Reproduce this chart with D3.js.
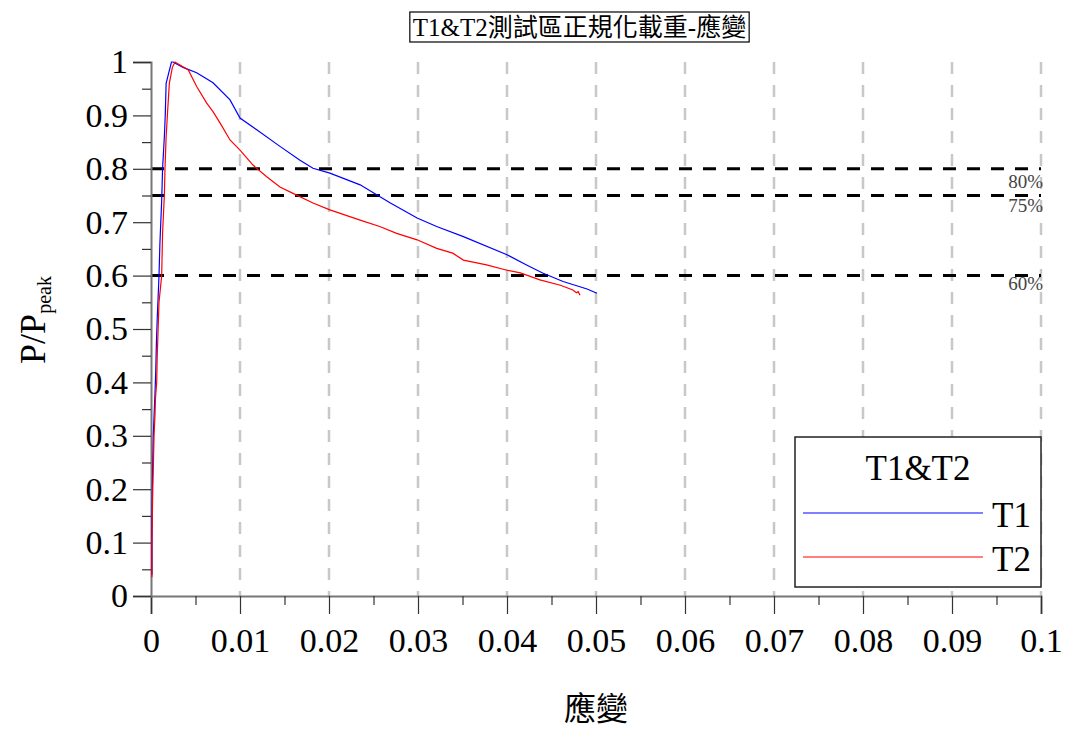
<!DOCTYPE html>
<html><head><meta charset="utf-8">
<script src="https://cdn.jsdelivr.net/npm/d3@7"></script>
<style>body{margin:0;background:#fff}svg{display:block}</style>
</head><body>
<svg id="c" width="1069" height="731"></svg>
<script>
const titleText = "T1&T2測試區正規化載重-應變";
const xLabel = "應變";
const legendTitle = "T1&T2";
const seriesNames = ["T1", "T2"];
const seriesColors = ["#0000ff", "#ff0000"];
const xTickValues = [0,0.01,0.02,0.03,0.04,0.05,0.06,0.07,0.08,0.09,0.1];
const xTickLabels = ["0","0.01","0.02","0.03","0.04","0.05","0.06","0.07","0.08","0.09","0.1"];
const yTickValues = [0,0.1,0.2,0.3,0.4,0.5,0.6,0.7,0.8,0.9,1];
const yTickLabels = ["0","0.1","0.2","0.3","0.4","0.5","0.6","0.7","0.8","0.9","1"];
const refLevels = [0.8, 0.75, 0.6];
const refLabels = ["80%", "75%", "60%"];

const t1Strain = [0.0001,0.0001,0.00015,0.0002,0.00026,0.00035,0.00045,0.00053,0.0006,0.0007,0.0008,0.0009,0.001,0.0012,0.0013,0.0015,0.0016,0.0017,0.002,0.0023,0.00247,
  0.0036,0.00513,0.00697,0.00888,0.0100,0.01188,0.01449,0.01674,0.0182,0.0201,0.0235,0.0254,0.0269,0.0299,0.0321,0.0351,0.0400,0.0422,0.0440,0.0463,0.0490,0.0501];
const t1Load = [0.04,0.12,0.2,0.25,0.3,0.34,0.38,0.42,0.47,0.52,0.56,0.6,0.66,0.74,0.8,0.86,0.9,0.96,0.98,1.0,1.0,
  0.99,0.98,0.961,0.929,0.895,0.873,0.842,0.816,0.801,0.792,0.770,0.751,0.736,0.708,0.692,0.673,0.639,0.620,0.605,0.589,0.575,0.567];
const t2Strain = [0.0001,0.0001,0.0002,0.0003,0.00034,0.00045,0.0005,0.00064,0.0007,0.0008,0.0009,0.0012,0.0013,0.0015,0.00157,0.0017,0.00184,0.00206,0.0024,0.0027,
  0.00419,0.00513,0.00626,0.00697,0.00775,0.00888,0.0100,0.01146,0.0130,0.01449,0.01596,0.0182,0.0201,0.0235,0.0257,0.0276,0.0299,0.0321,0.0339,0.0351,0.0377,0.0400,0.0415,0.0437,0.0460,0.0474,0.0478,0.0480,0.0482];
const t2Load = [0.035,0.1,0.2,0.27,0.3,0.34,0.37,0.4,0.45,0.5,0.55,0.6,0.68,0.75,0.8,0.86,0.9,0.96,0.99,1.0,
  0.985,0.954,0.923,0.907,0.886,0.854,0.835,0.807,0.785,0.766,0.754,0.736,0.723,0.704,0.692,0.679,0.667,0.651,0.642,0.629,0.620,0.610,0.605,0.592,0.582,0.573,0.568,0.570,0.563];

const svg = d3.select("#c");
const serif = "'Liberation Serif','Times New Roman',serif";
const cjk = "'Liberation Serif','Noto Sans CJK TC',serif";

const x = d3.scaleLinear().domain([0, 0.1]).range([151, 1041]);
const y = d3.scaleLinear().domain([0, 1]).range([596, 62]);

// vertical gridlines
svg.append("g").selectAll("line").data(xTickValues.slice(1)).join("line")
  .attr("x1", d => x(d)).attr("x2", d => x(d)).attr("y1", y(1)).attr("y2", y(0))
  .attr("stroke", "#c8c8c8").attr("stroke-width", 2.5).attr("stroke-dasharray", "12,11");

// reference lines
svg.append("g").selectAll("line").data(refLevels).join("line")
  .attr("x1", x(0)).attr("x2", x(0.1)).attr("y1", d => y(d)).attr("y2", d => y(d))
  .attr("stroke", "#000").attr("stroke-width", 3).attr("stroke-dasharray", "13,11");
const refOff = [19, 16, 14];
svg.append("g").selectAll("text").data(refLevels).join("text")
  .attr("x", x(0.1) + 2).attr("y", (d, i) => y(d) + refOff[i])
  .attr("text-anchor", "end").attr("font-family", serif).attr("font-size", 19).attr("fill", "#444")
  .text((d, i) => refLabels[i]);

// axes
svg.append("g").attr("transform", `translate(0,${y(0)})`)
  .call(d3.axisBottom(x).tickValues(xTickValues).tickSize(18).tickPadding(14)
    .tickFormat((d, i) => xTickLabels[i]));
svg.append("g").attr("transform", `translate(0,${y(0)})`)
  .call(d3.axisBottom(x).tickValues(d3.range(0.005, 0.1, 0.01)).tickSize(9).tickFormat(""))
  .call(g => g.select(".domain").remove());
svg.append("g").attr("transform", `translate(${x(0)},0)`)
  .call(d3.axisLeft(y).tickValues(yTickValues).tickSize(18).tickPadding(5)
    .tickFormat((d, i) => yTickLabels[i]));
svg.append("g").attr("transform", `translate(${x(0)},0)`)
  .call(d3.axisLeft(y).tickValues(d3.range(0.05, 1, 0.1)).tickSize(9).tickFormat(""))
  .call(g => g.select(".domain").remove());
svg.selectAll(".domain").attr("stroke", "#777").attr("stroke-width", 2);
svg.selectAll(".tick line").attr("stroke", "#333").attr("stroke-width", 1.2);
svg.selectAll(".tick text").attr("font-family", serif).attr("font-size", 34).attr("fill", "#000");

// series
const line = d3.line().x(d => x(d[0])).y(d => y(d[1]));
const series = [d3.zip(t1Strain, t1Load), d3.zip(t2Strain, t2Load)];
series.forEach((s, i) => {
  svg.append("path").datum(s).attr("d", line).attr("fill", "none")
    .attr("stroke", seriesColors[i]).attr("stroke-width", 1.2);
});

// title
const tg = svg.append("g");
const tr = tg.append("rect");
const tt = tg.append("text").attr("x", 579.5).attr("y", 36).attr("text-anchor", "middle")
  .attr("font-family", cjk).attr("font-size", 25).attr("fill", "#000").text(titleText);
const bb = tt.node().getBBox();
tr.attr("x", bb.x - 3).attr("y", 12).attr("width", bb.width + 6).attr("height", 30)
  .attr("fill", "#fff").attr("stroke", "#000").attr("stroke-width", 1.2);

// axis labels
svg.append("text").attr("x", x(0.05)).attr("y", 720).attr("text-anchor", "middle")
  .attr("font-family", cjk).attr("font-size", 32).text(xLabel);
const yl = svg.append("text").attr("transform", "translate(45,320) rotate(-90)")
  .attr("text-anchor", "middle").attr("font-family", serif).attr("font-size", 36);
yl.append("tspan").text("P/P");
yl.append("tspan").attr("font-size", 20).attr("dy", 6).text("peak");

// legend
const lg = svg.append("g");
lg.append("rect").attr("x", 795).attr("y", 437).attr("width", 246).attr("height", 150)
  .attr("fill", "#fff").attr("stroke", "#222").attr("stroke-width", 1.5);
lg.append("text").attr("x", 918).attr("y", 480).attr("text-anchor", "middle")
  .attr("font-family", serif).attr("font-size", 35).text(legendTitle);
seriesNames.forEach((n, i) => {
  const yy = 513 + i * 44;
  lg.append("line").attr("x1", 803).attr("x2", 983).attr("y1", yy).attr("y2", yy)
    .attr("stroke", seriesColors[i]).attr("stroke-width", 1.2);
  lg.append("text").attr("x", 992).attr("y", yy + 14).attr("font-family", serif)
    .attr("font-size", 35).text(n);
});
</script>
</body></html>
